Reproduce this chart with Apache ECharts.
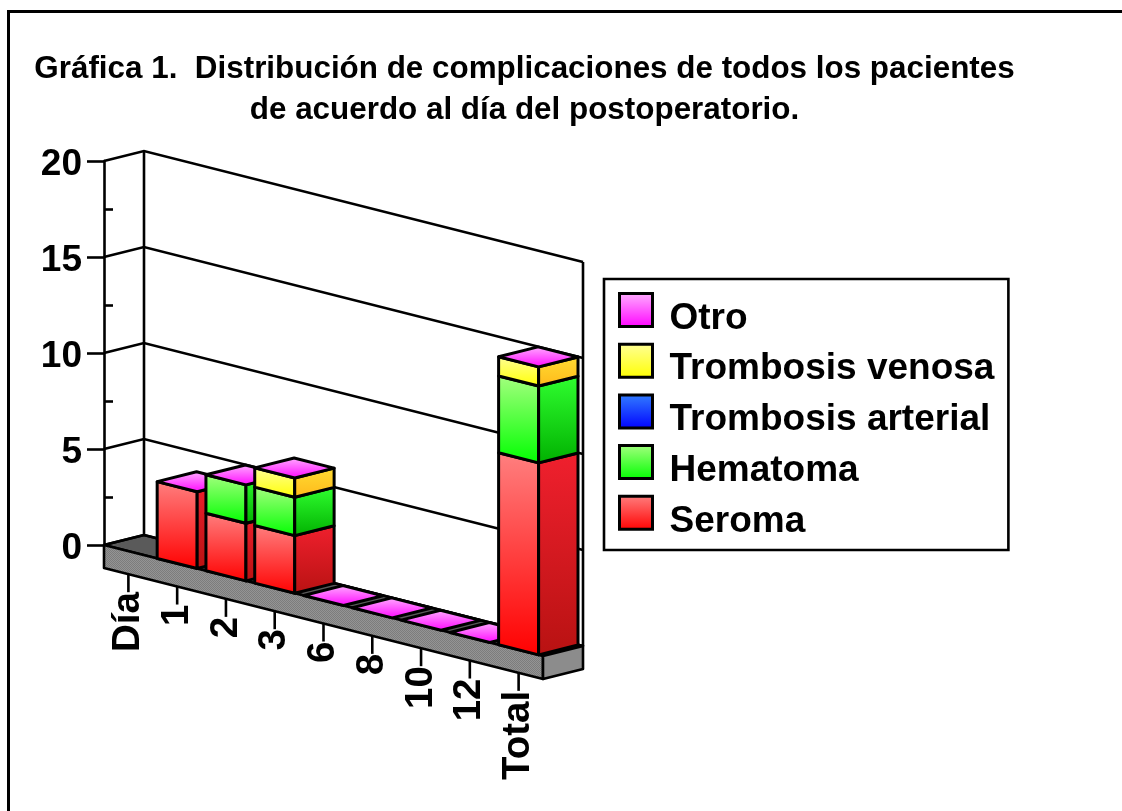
<!DOCTYPE html>
<html>
<head>
<meta charset="utf-8">
<style>html,body{margin:0;padding:0;background:#fff}#chart{width:1122px;height:811px}</style>
<script src="https://cdn.jsdelivr.net/npm/echarts@6/dist/echarts.min.js"></script>
</head>
<body>
<div id="chart"></div>
<script>
var categories = ["Día", "1", "2", "3", "6", "8", "10", "12", "Total"];
var yTicks = [0, 5, 10, 15, 20];
var seroma = [null, 4, 3, 3, 0, 0, 0, 0, 10];
var hematoma = [null, 0, 2, 2, 0, 0, 0, 0, 4];
var arterial = [null, 0, 0, 0, 0, 0, 0, 0, 0];
var venosa = [null, 0, 0, 1, 0, 0, 0, 0, 1];
var otro = [null, 0, 0, 0, 0, 0, 0, 0, 0];

var FONT = "'Liberation Sans', Arial, sans-serif";
var SLOPE = 0.2528;   // pendiente del eje x en pantalla
var DEPTH_X = 40;
var DEPTH_Y = -10;

function grad(top, bottom) {
    return new echarts.graphic.LinearGradient(0, 0, 0, 1, [
        {offset: 0, color: top},
        {offset: 1, color: bottom}
    ]);
}

var stackSeries = [
    {name: "Seroma", values: seroma, front: ["#ff8080", "#ff0000"], side: ["#f0202e", "#b81212"]},
    {name: "Hematoma", values: hematoma, front: ["#a6ff80", "#00ff00"], side: ["#30ff30", "#00b000"]},
    {name: "Trombosis arterial", values: arterial, front: ["#3380ff", "#0000ff"], side: ["#1040e0", "#0000a0"]},
    {name: "Trombosis venosa", values: venosa, front: ["#ffff99", "#ffff00"], side: ["#ffdd33", "#ffb81a"]},
    {name: "Otro", values: otro, front: ["#ffb3ff", "#ff00ff"], side: ["#e000e0", "#a000a0"]}
];

// proyeccion oblicua sobre las escalas del grid
function proj(api, xv, v, d) {
    var o = api.coord([0, 0]);
    var p = api.coord([xv, v]);
    return [p[0] + d * DEPTH_X, p[1] + (p[0] - o[0]) * SLOPE + d * DEPTH_Y];
}

function stackBase(seriesIndex, cat) {
    var sum = 0;
    for (var i = 0; i < seriesIndex; i++) {
        sum += stackSeries[i].values[cat] || 0;
    }
    return sum;
}

function poly(points, fill, z2, lineWidth) {
    return {
        type: "polygon",
        z2: z2,
        shape: {points: points},
        style: {fill: fill, stroke: "#000", lineWidth: lineWidth === undefined ? 3 : lineWidth, lineJoin: "round"}
    };
}

function barRenderer(seriesIndex) {
    return function (params, api) {
        var cat = api.value(0);
        var c = cat + 0.5;
        var info = stackSeries[seriesIndex];
        var value = info.values[cat];
        var base = stackBase(seriesIndex, cat);
        var top = base + value;
        var l = c - 0.41;
        var r = c + 0.41;
        var d = 0.985;
        var z2 = cat * 10 + seriesIndex;
        var children = [];
        if (value > 0) {
            children.push(poly([proj(api, l, top, 0), proj(api, r, top, 0), proj(api, r, base, 0), proj(api, l, base, 0)], grad(info.front[0], info.front[1]), z2));
            children.push(poly([proj(api, r, top, 0), proj(api, r, top, d), proj(api, r, base, d), proj(api, r, base, 0)], grad(info.side[0], info.side[1]), z2));
        }
        if (seriesIndex === stackSeries.length - 1) {
            children.push(poly([proj(api, l, top, 0), proj(api, r, top, 0), proj(api, r, top, d), proj(api, l, top, d)], grad(info.front[0], info.front[1]), z2 + 1));
        }
        return {type: "group", children: children};
    };
}

function checkerPattern() {
    var cv = document.createElement("canvas");
    cv.width = 2;
    cv.height = 2;
    var ctx = cv.getContext("2d");
    ctx.fillStyle = "#949494";
    ctx.fillRect(0, 0, 2, 2);
    ctx.fillStyle = "#7c7c7c";
    ctx.fillRect(0, 0, 1, 1);
    ctx.fillRect(1, 1, 1, 1);
    return {image: cv, repeat: "repeat"};
}
var floorPattern = checkerPattern();

function renderFloor(params, api) {
    var n = categories.length;
    var t = -1.2;   // grosor de la base
    return {type: "group", children: [
        poly([proj(api, 0, 0, 0), proj(api, 0, 0, 1), proj(api, n, 0, 1), proj(api, n, 0, 0)], "#5a5a5a", 0, 2.6),
        poly([proj(api, 0, 0, 0), proj(api, n, 0, 0), proj(api, n, t, 0), proj(api, 0, t, 0)], floorPattern, 0, 2.6),
        poly([proj(api, n, 0, 0), proj(api, n, 0, 1), proj(api, n, t, 1), proj(api, n, t, 0)], "#8c8c8c", 0, 2.6)
    ]};
}

function renderWall(params, api) {
    var v = api.value(0);
    var n = categories.length;
    return {
        type: "polyline",
        shape: {points: [proj(api, 0, v, 0), proj(api, 0, v, 1), proj(api, n, v, 1)]},
        style: {fill: null, stroke: "#000", lineWidth: 2.6}
    };
}

function renderWallEdge(params, api) {
    var xv = api.value(0);
    return {
        type: "line",
        shape: {
            x1: proj(api, xv, 0, 1)[0], y1: proj(api, xv, 0, 1)[1],
            x2: proj(api, xv, 20, 1)[0], y2: proj(api, xv, 20, 1)[1]
        },
        style: {stroke: "#000", lineWidth: 2.6}
    };
}

function renderCategory(params, api) {
    var cat = api.value(0);
    var p = proj(api, cat + 0.5, -1.2, 0);
    return {type: "group", children: [
        {type: "line", shape: {x1: p[0], y1: p[1], x2: p[0], y2: p[1] + 18}, style: {stroke: "#000", lineWidth: 2.6}},
        {
            type: "text",
            x: p[0],
            y: p[1] + 18,
            rotation: Math.PI / 2,
            style: {text: categories[cat], textAlign: "right", textVerticalAlign: "middle", font: "bold 38.5px " + FONT, fill: "#000"}
        }
    ]};
}

function catRows() {
    var rows = [];
    for (var i = 1; i < categories.length; i++) {
        rows.push([i]);
    }
    return rows;
}

var series = [
    {type: "custom", name: "_floor", z: 1, silent: true, clip: false, renderItem: renderFloor, data: [[0]]},
    {type: "custom", name: "_wall", z: 1, silent: true, clip: false, renderItem: renderWall, data: yTicks.map(function (v) { return [v]; })},
    {type: "custom", name: "_edge", z: 1, silent: true, clip: false, renderItem: renderWallEdge, data: [[0], [categories.length]]},
    {type: "custom", name: "_cats", z: 1, silent: true, clip: false, renderItem: renderCategory, data: categories.map(function (c, i) { return [i]; })}
];
stackSeries.forEach(function (s, idx) {
    series.push({
        type: "custom",
        name: s.name,
        z: 2,
        silent: true,
        clip: false,
        renderItem: barRenderer(idx),
        itemStyle: {color: grad(s.front[0], s.front[1])},
        data: catRows()
    });
});

var legendData = stackSeries.slice().reverse().map(function (s) {
    return {name: s.name, icon: "rect", itemStyle: {color: grad(s.front[0], s.front[1]), borderColor: "#000", borderWidth: 3}};
});

var chart = echarts.init(document.getElementById("chart"), null, {renderer: "canvas"});
chart.setOption({
    animation: false,
    backgroundColor: "#fff",
    title: {
        text: "Gráfica 1.  Distribución de complicaciones de todos los pacientes\nde acuerdo al día del postoperatorio.",
        left: 519.5,
        top: 44,
        textAlign: "center",
        textStyle: {fontFamily: FONT, fontWeight: "bold", fontSize: 31.4, lineHeight: 41, color: "#000"}
    },
    grid: {left: 104, top: 161, width: 439, height: 384, containLabel: false},
    xAxis: {type: "value", min: 0, max: categories.length, show: false},
    yAxis: [
        {
            type: "value", min: 0, max: 20, interval: 5,
            position: "left",
            axisLine: {show: true, lineStyle: {color: "#000", width: 2.6}},
            axisTick: {show: true, length: 17, lineStyle: {color: "#000", width: 2.6}},
            axisLabel: {margin: 22, fontFamily: FONT, fontWeight: "bold", fontSize: 37, color: "#000", verticalAlign: "top", lineHeight: 8},
            splitLine: {show: false}
        },
        {
            type: "value", min: 0, max: 20, interval: 5,
            position: "left",
            axisLine: {show: false},
            axisTick: {show: false, inside: true},
            minorTick: {show: true, splitNumber: 2, length: 9, lineStyle: {color: "#000", width: 2.6}},
            axisLabel: {show: false},
            splitLine: {show: false}
        }
    ],
    legend: {
        orient: "vertical",
        left: 604,
        top: 279,
        data: legendData,
        itemWidth: 33,
        itemHeight: 33,
        itemGap: -3.3,
        padding: [4, 14, 10.2, 14],
        backgroundColor: "#fff",
        borderColor: "#000",
        borderWidth: 2.6,
        selectedMode: false,
        // linea vacia para bajar el texto respecto al cuadro
        formatter: "\n{name}",
        textStyle: {fontFamily: FONT, fontWeight: "bold", fontSize: 37, lineHeight: 17, color: "#000", padding: [0, 0, 0, 12]}
    },
    graphic: [{
        type: "rect",
        silent: true,
        z: 100,
        shape: {x: 8.5, y: 11.5, width: 1300, height: 1000},
        style: {fill: null, stroke: "#000", lineWidth: 3}
    }],
    series: series
});
</script>
</body>
</html>
